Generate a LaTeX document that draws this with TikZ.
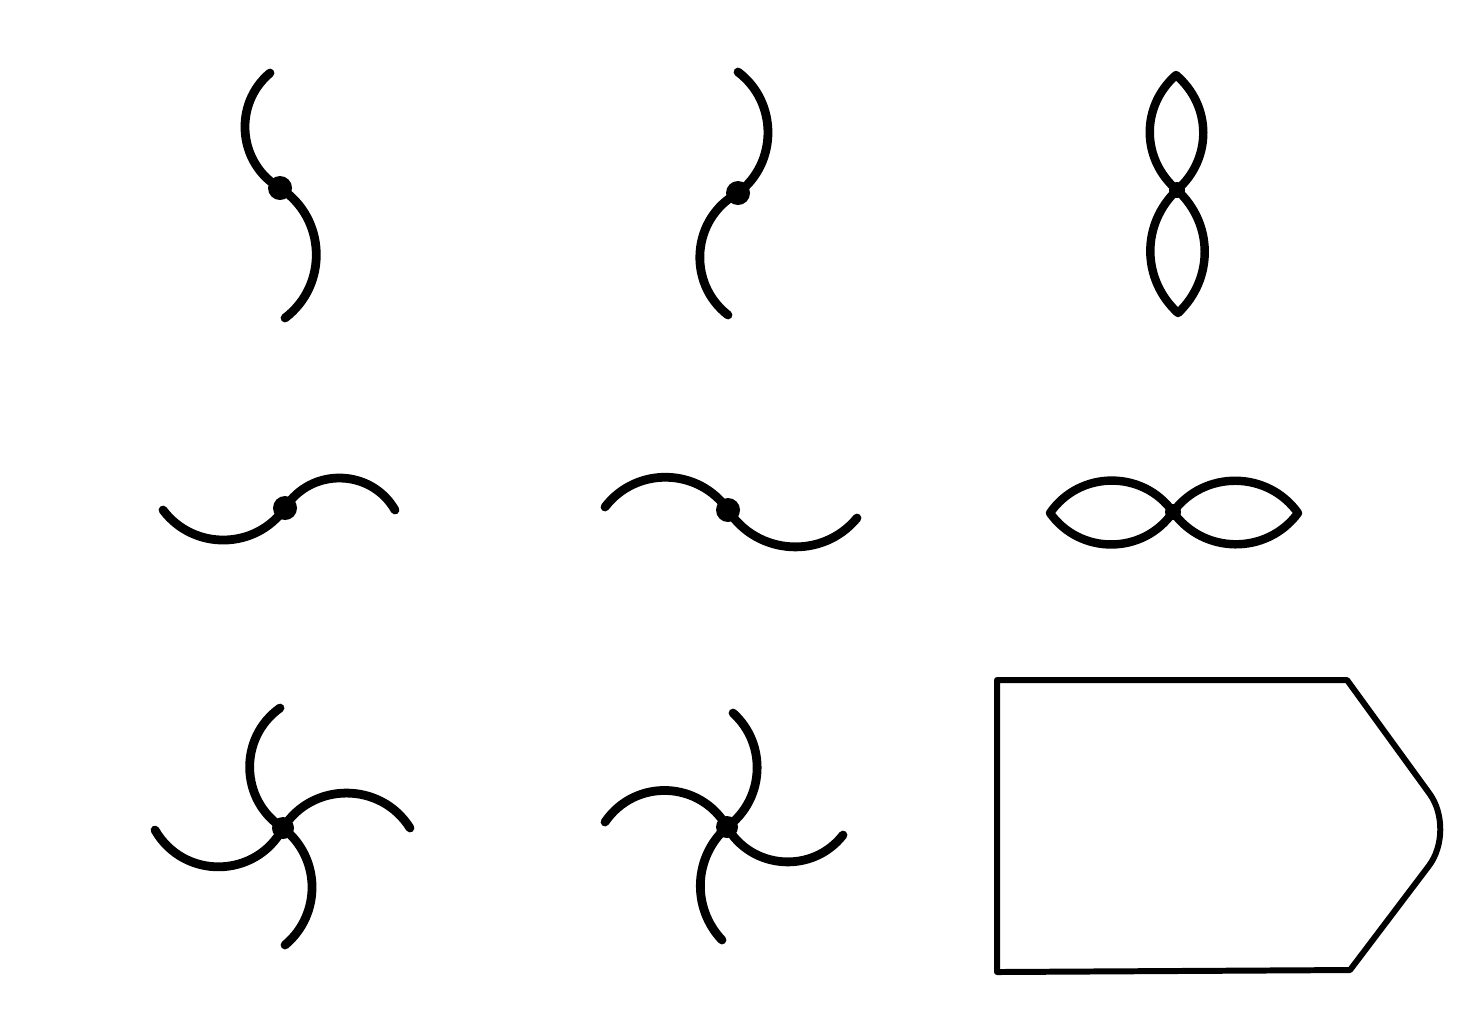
\documentclass[tikz,border=0pt]{standalone}
\usetikzlibrary{calc}
\tikzset{
  blade/.style={line width=2.5pt, line cap=round, line join=round},
  lens/.style={line width=2.4pt, line join=round, line cap=round},
  hub/.style={fill=black},
  housing/.style={line width=1.7pt, line join=round}
}
\begin{document}
\begin{tikzpicture}[x=0.01cm,y=-0.01cm]
\fill[white] (0,0) rectangle (1483,1035);
\useasboundingbox (0,0) rectangle (1483,1035);

% ---- symbol 1 (top left)
\coordinate (a1) at (280,188);
\coordinate (a1u) at (270,73);
\coordinate (a1d) at (285,318);
\draw[blade] (a1) to[bend left=55,looseness=1.08] (a1u);
\draw[blade] (a1) to[bend left=55,looseness=1.08] (a1d);
\fill[hub] (a1) circle[radius=0.12cm];

% ---- symbol 2 (top middle)
\coordinate (a2) at (738,193);
\coordinate (a2u) at (738,72);
\coordinate (a2d) at (728,315);
\draw[blade] (a2) to[bend right=53,looseness=1.06] (a2u);
\draw[blade] (a2) to[bend right=57,looseness=1.10] (a2d);
\fill[hub] (a2) circle[radius=0.12cm];

% ---- symbol 3 (top right, vertical lenses)
\coordinate (a3) at (1177,190);
\coordinate (a3u) at (1176,75);
\coordinate (a3d) at (1178,313);
\draw[lens] (a3) to[bend left=49,looseness=1.05] (a3u) to[bend left=49,looseness=1.05] (a3);
\draw[lens] (a3) to[bend left=47,looseness=1.03] (a3d) to[bend left=47,looseness=1.03] (a3);
\fill[hub] (a3) circle[radius=0.08cm];

% ---- symbol 4 (middle left)
\coordinate (a4) at (285,508);
\coordinate (a4l) at (163,510);
\coordinate (a4r) at (395,510);
\draw[blade] (a4) to[bend left=54,looseness=1.07] (a4l);
\draw[blade] (a4) to[bend left=59,looseness=1.12] (a4r);
\fill[hub] (a4) circle[radius=0.12cm];

% ---- symbol 5 (middle middle)
\coordinate (a5) at (728,510);
\coordinate (a5l) at (605,507);
\coordinate (a5r) at (857,518);
\draw[blade] (a5) to[bend right=54,looseness=1.07] (a5l);
\draw[blade] (a5) to[bend right=54,looseness=1.07] (a5r);
\fill[hub] (a5) circle[radius=0.12cm];

% ---- symbol 6 (middle right, horizontal lenses)
\coordinate (a6) at (1173,512);
\coordinate (a6l) at (1050,513);
\coordinate (a6r) at (1298,513);
\draw[lens] (a6) to[bend left=55,looseness=1.08] (a6l) to[bend left=55,looseness=1.08] (a6);
\draw[lens] (a6) to[bend left=54,looseness=1.07] (a6r) to[bend left=54,looseness=1.07] (a6);
\fill[hub] (a6) circle[radius=0.08cm];

% ---- symbol 7 (bottom left, four blades)
\coordinate (a7) at (283,828);
\coordinate (a7t) at (280,708);
\coordinate (a7r) at (410,828);
\coordinate (a7l) at (155,830);
\coordinate (a7b) at (285,945);
\draw[blade] (a7) to[bend left=56,looseness=1.09] (a7t);
\draw[blade] (a7) to[bend left=58,looseness=1.11] (a7r);
\draw[blade] (a7) to[bend left=61,looseness=1.15] (a7l);
\draw[blade] (a7) to[bend left=51,looseness=1.05] (a7b);
\fill[hub] (a7) circle[radius=0.11cm];

% ---- symbol 8 (bottom middle, four blades)
\coordinate (a8) at (727,827);
\coordinate (a8t) at (733,713);
\coordinate (a8l) at (605,822);
\coordinate (a8r) at (843,835);
\coordinate (a8b) at (722,940);
\draw[blade] (a8) to[bend right=51,looseness=1.04] (a8t);
\draw[blade] (a8) to[bend right=58,looseness=1.12] (a8l);
\draw[blade] (a8) to[bend right=56,looseness=1.09] (a8r);
\draw[blade] (a8) to[bend right=46,looseness=1.01] (a8b);
\fill[hub] (a8) circle[radius=0.11cm];

% ---- housing (bottom right)
\coordinate (h1) at (997,680);
\coordinate (h2) at (1347,680);
\coordinate (h3) at (1429.5,793.6);
\coordinate (h3a) at (1444.1,813.7);
\coordinate (h4a) at (1443.8,846.1);
\coordinate (h4) at (1428.8,865.9);
\coordinate (h5) at (1350,970);
\coordinate (h6) at (997,972);
\draw[housing] (h1) -- (h2) -- (h3) .. controls (h3a) and (h4a) .. (h4) -- (h5) -- (h6) -- cycle;
\end{tikzpicture}
\end{document}
